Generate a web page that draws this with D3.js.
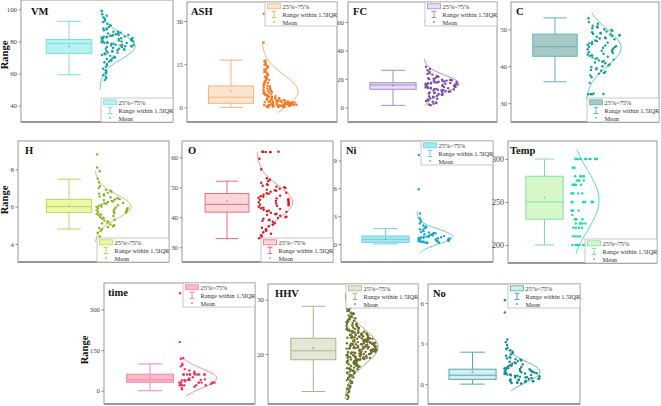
<!DOCTYPE html>
<html><head><meta charset="utf-8">
<script src="https://cdn.jsdelivr.net/npm/d3@7"></script>
<style>body{margin:0;background:#fff}svg{display:block}text{font-family:"Liberation Serif","Times New Roman",serif}</style>
</head><body><svg id="c" width="661" height="406"></svg>
<script>
// ---------------- DATA ----------------
const panelNames = ["VM","ASH","FC","C","H","O","Ni","Temp","time","HHV","No"];
const tickValues = [[40,60,80,100],[0,15,30],[0,20,40,60],[30,40,50],[4,6,8],[30,40,50,60],[0,3,6,9],[200,250,300],[0,150,300],[20,30],[0,3,6]];
const yDomains = [[29.8,105.8],[-5.1,36.6],[-10.3,74],[24.9,57.4],[3.03,9.52],[25.1,65.4],[-1.94,11.1],[179,321],[-49,398],[10.8,32.9],[-1.47,7.4]];
// [whisker low, Q1, median, Q3, whisker high, mean]
const boxStats = [
  [59.2,72.5,78.7,81.2,92.5,77],
  [0,1.4,3.5,7.4,16.4,5.6],
  [1.4,12.7,15.7,17.3,26,15.3],
  [35.8,42.7,45.3,48.7,53.1,45],
  [4.8,5.68,6.0,6.39,7.47,6.05],
  [32.9,41.7,44.3,47.9,52.0,45.4],
  [0,0.18,0.5,0.86,1.65,0.55],
  [200,230,250,280,300,255],
  [0,31,40,61,99,47],
  [13.1,18.95,20.6,22.9,28.8,21.1],
  [0,0.35,0.66,1.1,2.36,0.9]
];
// fitted normal curve: [mean, sd, drawn from, drawn to]
const curveParams = [
  [77,8,50,100],[5.5,5.8,-2,23],[16.5,6,1,34],[45,5,31,54.5],[6,0.65,4.1,7.9],
  [45,5.5,33,61.7],[0.8,0.8,-1,3.5],[252,35,190,311],[46,37,-20,126],[21.3,3.2,11.8,31],[0.9,0.8,-0.5,2.65]
];
const vmValues = [99,97,96,95,94,93,92,91,90,90,89,88,88,87.5,87,86,86,85.5,85,85,84.5,84,84,84,83.5,83.5,83,83,83,82.5,82.5,82,82,82,81.5,81.5,81,81,81,80.5,80.5,80,80,80,79.5,79.5,79,79,79,78.5,78.5,78,78,78,77.5,77.5,77,77,77,76.5,76.5,76,76,75.5,75.5,75,75,74.5,74,74,73.5,73,73,72.5,72,71.5,71,70.5,70,69.5,69,68.5,68,67.5,67,66,65,64,63,62,61,60,59,58,57,56,33];
const ashValues = [32.5,22.5,16.3,16,15.5,15,14.8,14.5,14.2,14,13.5,13.2,13,12.6,12.3,12,11.5,11.2,11,10.6,10.3,10,9.8,9.5,9.2,9,8.8,8.5,8.2,8,7.8,7.5,7.3,7,6.8,6.6,6.4,6.2,6,5.8,5.6,5.5,5.3,5.1,5,4.8,4.6,4.5,4.3,4.2,4,3.9,3.8,3.6,3.5,3.4,3.3,3.2,3.1,3,2.9,2.8,2.7,2.6,2.5,2.5,2.4,2.3,2.2,2.2,2.1,2,2,1.9,1.9,1.8,1.8,1.7,1.7,1.6,1.6,1.5,1.5,1.5,1.4,1.4,1.3,1.3,1.3,1.2,1.2,1.2,1.1,1.1,1.1,1,1,1,0.9,0.9,0.9,0.8,0.8,0.8,0.7,0.7,0.7,0.6,0.6,0.6,0.5,0.5,0.5,0.4,0.4,0.3,0.3,0.2,0.2,0.1,0.1,0];
const fcValues = [60.5,28.5,27,26,25,24,23.5,23,22,21.5,21,20.5,20.2,20,19.8,19.5,19.2,19,18.8,18.6,18.4,18.2,18,17.8,17.6,17.5,17.3,17.1,17,16.8,16.6,16.5,16.3,16.1,16,15.8,15.6,15.4,15.2,15,14.8,14.6,14.4,14.2,14,13.8,13.6,13.4,13.2,13,12.8,12.6,12.4,12.2,12,11.8,11.5,11.2,11,10.8,10.5,10.2,10,9.7,9.4,9,8.6,8.2,7.8,7.4,7,6.5,6,5.5,5,4.5,4,3.5,3,2.5,2,1.5];
const cValues = [53,52,51.5,51,50.8,50.5,50.3,50,49.8,49.6,49.4,49.2,49,48.9,48.8,48.6,48.5,48.3,48.2,48,47.8,47.6,47.5,47.3,47,46.8,46.6,46.4,46.2,46,45.8,45.6,45.4,45.3,45.2,45,44.8,44.6,44.4,44.2,44,43.8,43.6,43.4,43.2,43,42.8,42.6,42.4,42.2,42,41.8,41.6,41.4,41.2,41,40.8,40.5,40.2,40,39.8,39.5,39.2,39,38.8,38.5,38.2,38,37.5,37,35.5,32.6,32.5,32.5,32.4,32.4,29.5];
const hValues = [8.8,8.1,7.9,7.5,7.3,7.1,7,6.9,6.85,6.8,6.75,6.7,6.65,6.6,6.55,6.5,6.45,6.4,6.38,6.35,6.3,6.28,6.25,6.2,6.18,6.15,6.1,6.08,6.05,6,5.98,5.95,5.92,5.9,5.88,5.85,5.82,5.8,5.78,5.75,5.72,5.7,5.68,5.65,5.6,5.58,5.55,5.5,5.45,5.4,5.35,5.3,5.25,5.2,5.15,5.1,5.05,5,4.95,4.9,4.85,4.8,4.7,4.6,4.4,4.2,4.1,4,3.95];
const oValues = [61.8,61.8,61.8,61.7,61.7,61.7,59.5,56,53,52.5,52,51.5,51,50.8,50.5,50.2,50,49.8,49.5,49.2,49,48.8,48.5,48.2,48,47.8,47.5,47.2,47,46.8,46.5,46.3,46,45.8,45.6,45.4,45.2,45,44.8,44.6,44.4,44.2,44,43.8,43.5,43.2,43,42.8,42.5,42.2,42,41.8,41.5,41.2,41,40.8,40.5,40.2,40,39.8,39.5,39.2,39,38.8,38.5,38,37.5,37,36.5,36,35.5,35,34.5,34,33.5,33,32.5,32,31.5,31];
const niValues = [9.6,5.9,3.3,2.8,2.6,2.4,2.2,2,1.9,1.8,1.7,1.6,1.5,1.4,1.3,1.25,1.2,1.15,1.1,1.05,1,0.95,0.9,0.85,0.8,0.78,0.75,0.72,0.7,0.68,0.65,0.62,0.6,0.58,0.55,0.52,0.5,0.48,0.45,0.42,0.4,0.38,0.35,0.32,0.3,0.28,0.25,0.22,0.2,0.18,0.15,0.12,0.1];
const tempValues = [300,300,300,300,300,300,300,300,300,300,300,300,290,290,290,280,280,280,280,280,275,275,275,275,270,270,270,270,270,260,260,260,260,260,250,250,250,250,250,250,250,250,250,250,240,240,240,240,235,230,230,230,230,225,225,225,225,225,220,220,220,220,210,210,210,210,200,200,200,200,200,200,200,200,200,200];
const timeValues = [360,180,120,118,100,95,90,80,75,70,65,60,60,60,60,60,60,60,60,60,60,50,45,42,40,40,40,40,38,35,30,30,30,30,30,30,30,30,30,30,25,22,20,20,20,20,20,15,10,5];
const hhvValues = [31.2,30.6,30.3,30.1,29.7,29.5,29.4,29.1,28.9,28.7,28.5,28.3,28.1,28.0,27.9,27.6,27.5,27.4,27.3,27.1,26.9,26.8,26.8,26.6,26.5,26.4,26.3,26.1,26.0,26.0,25.9,25.7,25.6,25.6,25.5,25.3,25.2,25.2,25.1,24.9,24.9,24.8,24.8,24.6,24.6,24.5,24.4,24.4,24.3,24.2,24.2,24.1,24.0,24.0,23.9,23.9,23.8,23.8,23.7,23.7,23.6,23.6,23.5,23.5,23.5,23.4,23.4,23.3,23.3,23.2,23.2,23.1,23.1,23.0,23.0,23.0,22.9,22.9,22.8,22.8,22.8,22.7,22.7,22.6,22.6,22.6,22.5,22.5,22.4,22.4,22.4,22.3,22.3,22.3,22.2,22.2,22.2,22.1,22.1,22.0,22.0,22.0,21.9,21.9,21.9,21.8,21.8,21.8,21.7,21.7,21.7,21.6,21.6,21.6,21.5,21.5,21.5,21.4,21.4,21.4,21.3,21.3,21.3,21.2,21.2,21.2,21.1,21.1,21.1,21.0,21.0,21.0,20.9,20.9,20.9,20.8,20.8,20.8,20.7,20.7,20.7,20.6,20.6,20.6,20.5,20.5,20.5,20.4,20.4,20.4,20.3,20.3,20.3,20.2,20.2,20.2,20.1,20.1,20.0,20.0,20.0,19.9,19.9,19.8,19.8,19.8,19.7,19.7,19.6,19.6,19.6,19.5,19.5,19.4,19.4,19.3,19.3,19.3,19.2,19.2,19.1,19.1,19.0,19.0,18.9,18.9,18.8,18.8,18.7,18.7,18.6,18.6,18.5,18.4,18.4,18.3,18.3,18.2,18.1,18.1,18.0,17.9,17.8,17.8,17.7,17.6,17.5,17.4,17.4,17.3,17.2,17.1,17.0,16.9,16.8,16.7,16.6,16.5,16.4,16.2,16.1,16.0,15.8,15.7,15.6,15.4,15.2,15.1,14.9,14.7,14.6,14.3,14.1,14.0,13.7,13.6,13.3,13.1,12.9,12.5,12.3,12.1,11.7];
const noValues = [6.2,5.3,3.3,3.1,2.9,2.7,2.6,2.5,2.4,2.3,2.2,2.1,2,1.95,1.9,1.85,1.8,1.75,1.7,1.65,1.6,1.55,1.5,1.45,1.4,1.35,1.3,1.25,1.2,1.18,1.15,1.12,1.1,1.05,1,0.98,0.95,0.92,0.9,0.88,0.85,0.82,0.8,0.78,0.75,0.72,0.7,0.68,0.65,0.62,0.6,0.58,0.55,0.52,0.5,0.48,0.45,0.42,0.4,0.38,0.35,0.32,0.3,0.28,0.25,0.22,0.2,0.18,0.15,0.12,0.1,0.08,0.05];
const seriesValues = [vmValues,ashValues,fcValues,cValues,hValues,oValues,niValues,tempValues,timeValues,hhvValues,noValues];
const legendLabels = ["25%~75%","Range within 1.5IQR","Mean"];

// ---------------- LAYOUT / STYLE ----------------
const frames = [[21,0,173,122],[187,2,337,122],[348,2,497,122],[511,2,659,122],
  [18,141,169,262],[182,141,333,262],[341,141,493,262],[508,141,657,263],
  [104,283,255,404],[268,284,418,404],[428,284,580,404]];
// [box center frac, box width frac, points start frac, curve peak px]
const layoutFracs = [[0.316,0.30,0.52,35],[0.293,0.30,0.50,36],[0.302,0.31,0.51,35],[0.297,0.30,0.507,35],
  [0.338,0.30,0.51,36],[0.298,0.29,0.497,35.6],[0.293,0.31,0.50,35.4],[0.245,0.25,0.416,29],
  [0.305,0.31,0.49,38.7],[0.302,0.30,0.513,33],[0.293,0.31,0.493,37]];
const legendCorner = ["br","tr","tr","br","br","br","tr","br","tr","tr","tr"];
const titleDx = [10,4,5,5,7,6,5,2,4,7,5];
const colors = [
  {fill:"#b5f2f0",stroke:"#80dede",pt:"#17a1a3",curve:"#45c4c8"},
  {fill:"#fde4cf",stroke:"#f6b27c",pt:"#f27a22",curve:"#f5a050"},
  {fill:"#e8def2",stroke:"#a68ac8",pt:"#7a4aa8",curve:"#9070c0"},
  {fill:"#a9c9c6",stroke:"#5cb7b5",pt:"#0e9e9c",curve:"#3cc0c0"},
  {fill:"#eef8a8",stroke:"#bad65c",pt:"#86b01c",curve:"#a0c840"},
  {fill:"#fcd6da",stroke:"#ef6a7a",pt:"#e0141e",curve:"#f07888"},
  {fill:"#a8e6f2",stroke:"#6ed0e2",pt:"#12a6d2",curve:"#40c0e0"},
  {fill:"#d6f8c8",stroke:"#80dcae",pt:"#12dcb0",curve:"#30d4b8"},
  {fill:"#f8b9c9",stroke:"#f08aa4",pt:"#f0305e",curve:"#f07a98"},
  {fill:"#e6e6d6",stroke:"#b0b08e",pt:"#6e6e2a",curve:"#8e8e5a"},
  {fill:"#d4eef0",stroke:"#52a8b0",pt:"#0e8a92",curve:"#3aa0a8"}
];
const rangeLabels = [[8,55],[8,200],[88,350]];

// ---------------- DRAW ----------------
const svg = d3.select("#c");
const defs = svg.append("defs");
// deterministic, non-random spread of dots across the half-violin width
const spread = k => ((k * k * 0.3774388331 + k * 0.5698402910 + 0.21) % 1);

panelNames.forEach((name, i) => {
  const [x0, y0, x1, y1] = frames[i];
  const w = x1 - x0, hgt = y1 - y0;
  const col = colors[i];
  const y = d3.scaleLinear().domain(yDomains[i]).range([y1, y0]);
  defs.append("clipPath").attr("id", "clip" + i).append("rect")
    .attr("x", x0).attr("y", y0).attr("width", w).attr("height", hgt);
  const g = svg.append("g");
  const inner = g.append("g").attr("clip-path", `url(#clip${i})`);
  const [bc, bwf, psf, peak] = layoutFracs[i];
  const cx = x0 + bc * w, bW = bwf * w, capW = bW * 0.52, px0 = x0 + psf * w;
  const [wlo, q1, med, q3, whi, mean] = boxStats[i];

  // whiskers
  inner.append("line").attr("x1", cx).attr("x2", cx).attr("y1", y(whi)).attr("y2", y(q3)).attr("stroke", col.stroke).attr("stroke-width", 1);
  inner.append("line").attr("x1", cx).attr("x2", cx).attr("y1", y(q1)).attr("y2", y(wlo)).attr("stroke", col.stroke).attr("stroke-width", 1);
  [whi, wlo].forEach(v => inner.append("line").attr("x1", cx - capW / 2).attr("x2", cx + capW / 2)
    .attr("y1", y(v)).attr("y2", y(v)).attr("stroke", col.stroke).attr("stroke-width", 1));
  // box
  inner.append("rect").attr("x", cx - bW / 2).attr("width", bW).attr("y", y(q3)).attr("height", y(q1) - y(q3))
    .attr("fill", col.fill).attr("stroke", col.stroke).attr("stroke-width", 1);
  inner.append("line").attr("x1", cx - bW / 2).attr("x2", cx + bW / 2).attr("y1", y(med)).attr("y2", y(med))
    .attr("stroke", col.stroke).attr("stroke-width", 1);
  inner.append("circle").attr("cx", cx).attr("cy", y(mean)).attr("r", 1.1).attr("fill", col.curve).attr("opacity", 0.6);

  // fitted curve
  const [mu, sd, lo, hi] = curveParams[i];
  const steps = d3.range(0, 121).map(k => lo + (hi - lo) * k / 120);
  const line = d3.line().x(v => px0 + peak * Math.exp(-((v - mu) ** 2) / (2 * sd * sd))).y(v => y(v));
  inner.append("path").attr("d", line(steps)).attr("fill", "none").attr("stroke", col.curve).attr("stroke-width", 0.9);

  // points (spread width scaled by local density)
  const vals = seriesValues[i];
  const span = yDomains[i][1] - yDomains[i][0];
  const bwk = span * 0.018;
  const dens = vals.map(v => d3.sum(vals, u => Math.exp(-(((v - u) / bwk) ** 2) / 2)));
  const maxD = d3.max(dens);
  inner.append("g").selectAll("circle").data(vals).join("circle")
    .attr("cx", (v, k) => px0 + 1.5 + spread(k) * (peak - 1.5) * (dens[k] / maxD))
    .attr("cy", v => y(v)).attr("r", 1.2).attr("fill", col.pt);

  // axis
  const ax = d3.axisLeft(y).tickValues(tickValues[i]).tickFormat(d => String(d))
    .tickSize(2.5).tickSizeOuter(0).tickPadding(1.5);
  const ag = g.append("g").attr("transform", `translate(${x0},0)`).call(ax);
  ag.select(".domain").remove();
  ag.selectAll(".tick line").attr("stroke", "#888");
  ag.selectAll(".tick text").attr("font-family", "Liberation Serif").attr("font-size", name === "Temp" ? 8 : 6.8).attr("fill", "#444");

  // frame
  g.append("rect").attr("x", x0).attr("y", y0).attr("width", w).attr("height", hgt)
    .attr("fill", "none").attr("stroke", "#8c8c8c").attr("stroke-width", 0.9);
  g.append("line").attr("x1", x0).attr("x2", x1).attr("y1", y1).attr("y2", y1).attr("stroke", "#999").attr("stroke-width", 1.8);

  // title
  g.append("text").attr("x", x0 + titleDx[i]).attr("y", (i === 0 ? 2 : y0) + 13).text(name)
    .attr("font-weight", "bold").attr("font-size", 10.5).attr("fill", "#111");

  // legend
  const LW = 72, LH = 24;
  const lx = x1 - LW, ly = legendCorner[i] === "tr" ? y0 : y1 - LH;
  const lg = g.append("g");
  lg.append("rect").attr("x", lx).attr("y", ly).attr("width", LW).attr("height", LH)
    .attr("fill", "#fff").attr("stroke", "#bbb").attr("stroke-width", 0.8);
  lg.append("rect").attr("x", lx + 2.5).attr("y", ly + 1.8).attr("width", 13).attr("height", 5)
    .attr("fill", col.fill).attr("stroke", col.stroke).attr("stroke-width", 0.8);
  const wx = lx + 9;
  lg.append("line").attr("x1", wx - 2.5).attr("x2", wx + 2.5).attr("y1", ly + 9.3).attr("y2", ly + 9.3).attr("stroke", col.stroke);
  lg.append("line").attr("x1", wx).attr("x2", wx).attr("y1", ly + 9.3).attr("y2", ly + 15.5).attr("stroke", col.stroke);
  lg.append("line").attr("x1", wx - 2.5).attr("x2", wx + 2.5).attr("y1", ly + 15.5).attr("y2", ly + 15.5).attr("stroke", col.stroke);
  lg.append("circle").attr("cx", wx).attr("cy", ly + 20).attr("r", 0.9).attr("fill", col.curve);
  const baselines = [7.2, 15, 22.5];
  legendLabels.forEach((t, k) => lg.append("text").attr("x", lx + 17.5).attr("y", ly + baselines[k])
    .text(t).attr("font-size", 6.4).attr("fill", "#333"));
});

// "Range" y labels
rangeLabels.forEach(([x, yy]) => svg.append("text")
  .attr("transform", `translate(${x},${yy}) rotate(-90)`).attr("text-anchor", "middle")
  .attr("font-weight", "bold").attr("font-size", 10.5).attr("fill", "#111").text("Range"));
</script></body></html>
